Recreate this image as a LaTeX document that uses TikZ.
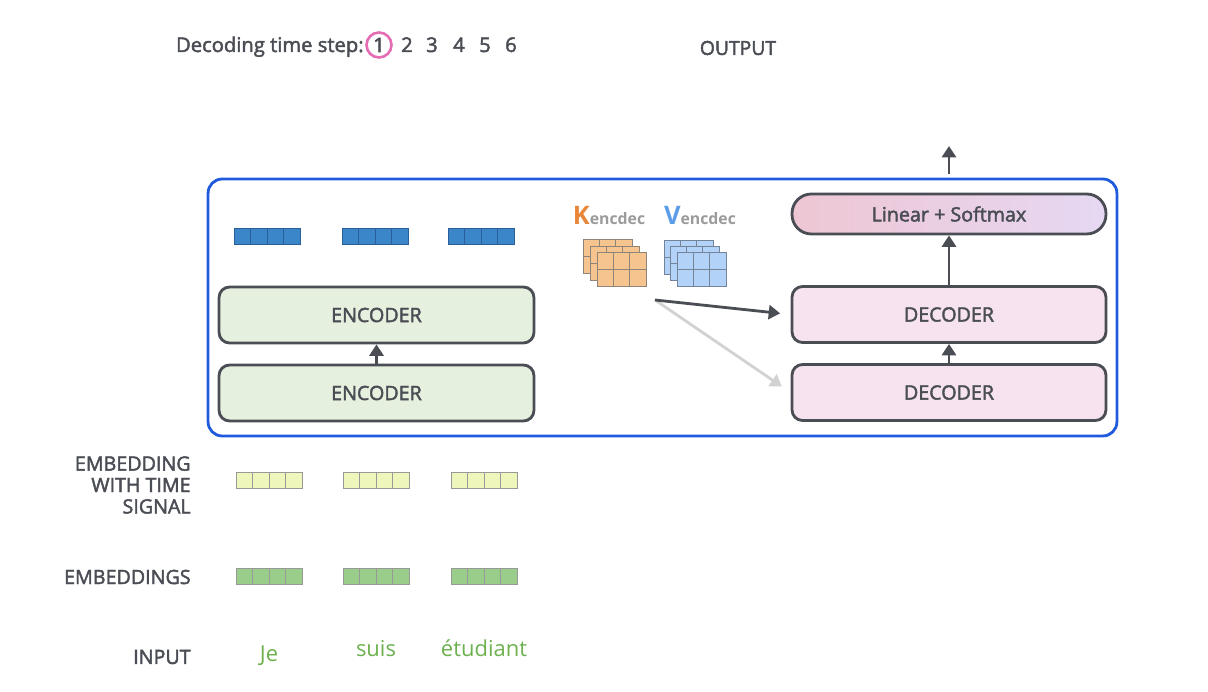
\documentclass[tikz,border=0pt]{standalone}
\usepackage{fontspec}
\setmainfont{Open Sans}
\newfontfamily\semifont{Open Sans}[FakeBold=2.2]
\usetikzlibrary{arrows.meta,positioning,calc}
\definecolor{tfgrey}{HTML}{4A4D54}
\definecolor{tfblue}{HTML}{1F5BDC}
\definecolor{tfpink}{HTML}{E46DB4}
\definecolor{encfill}{HTML}{E6F0DF}
\definecolor{decfill}{HTML}{F7E3EF}
\definecolor{lsleft}{HTML}{EEC6D3}
\definecolor{lsright}{HTML}{E6D8F3}
\definecolor{encout}{HTML}{3A86C8}
\definecolor{encoutline}{HTML}{2A609A}
\definecolor{timefill}{HTML}{EEF6BC}
\definecolor{embfill}{HTML}{9ACD8A}
\definecolor{wordgreen}{HTML}{6DB14F}
\definecolor{kcol}{HTML}{E8873A}
\definecolor{vcol}{HTML}{5B9DE8}
\definecolor{kfill}{HTML}{F6C58F}
\definecolor{kline}{HTML}{8E8478}
\definecolor{vfill}{HTML}{B3D2F8}
\definecolor{vline}{HTML}{73849A}
\definecolor{subgrey}{HTML}{9B9B9B}
\definecolor{faint}{HTML}{D2D2D2}

\begin{document}
\begin{tikzpicture}[
  x=0.02cm, y=-0.02cm,
  block/.style={draw=tfgrey, line width=1.6pt, rounded corners=6pt,
                minimum width=6.3cm, minimum height=1.12cm, text=tfgrey,
                font=\semifont\fontsize{11.2}{13}\selectfont},
  arr/.style={-{Triangle[length=6.5pt, width=8pt]}, tfgrey, line width=1.6pt},
  lbl/.style={text=tfgrey, font=\semifont\fontsize{11.2}{12.2}\selectfont, align=right,
              anchor=east, inner sep=0pt},
  word/.style={text=wordgreen, font=\fontsize{12.5}{14}\selectfont, anchor=base},
  stepnum/.style={text=tfgrey, font=\semifont\fontsize{11.5}{13}\selectfont},
  encbox/.style={fill=encout, draw=encoutline, line width=0.5pt},
  timebox/.style={fill=timefill, draw=gray!80, line width=0.5pt},
  embbox/.style={fill=embfill, draw=gray!80, line width=0.5pt},
  kcell/.style={fill=kfill, draw=kline, line width=0.5pt},
  vcell/.style={fill=vfill, draw=vline, line width=0.5pt},
]
\useasboundingbox (0,0) rectangle (1208,692);

% ---------------- header -------------------------------------------
\node[stepnum, anchor=base east, inner sep=0pt] (steplbl) at (364,52) {Decoding time step:};
\node[stepnum, draw=tfpink, circle, line width=1.5pt, minimum size=0.5cm, inner sep=0pt] (s1) at (379,45) {1};
\foreach \n/\sx in {2/407,3/432,4/459,5/485,6/511}
  \node[stepnum, anchor=base] (s\n) at (\sx,52) {\n};
\node[stepnum, font=\semifont\fontsize{11}{13}\selectfont] (outlbl) at (738,48) {OUTPUT};

% ---------------- frame and blocks ---------------------------------
\node[draw=tfblue, line width=1.6pt, rounded corners=8pt,
      minimum width=18.18cm, minimum height=5.14cm] (frame) at (662.5,307.5) {};

\node[block, fill=encfill] (enc1) at (376.5,393) {ENCODER};
\node[block, fill=encfill] (enc2) at (376.5,315) {ENCODER};
\node[block, fill=decfill, minimum width=6.28cm] (dec1) at (949,392.5) {DECODER};
\node[block, fill=decfill, minimum width=6.28cm] (dec2) at (949,314.5) {DECODER};
\node[block, left color=lsleft, right color=lsright, minimum width=6.28cm,
      minimum height=0.8cm, rounded corners=11pt] (ls) at (949,214) {Linear + Softmax};

\draw[arr] (enc1.north) -- (enc2.south);
\draw[arr] (dec1.north) -- (dec2.south);
\draw[arr] (dec2.north) -- (ls.south);
\coordinate (out) at (949,146);
\draw[arr] ([yshift=2pt]frame.north -| ls.north) -- (out);

% ---------------- encoder outputs ----------------------------------
\foreach \vx in {234,342,448}
  \foreach \i in {0,...,3}
    \draw[encbox] (\vx+\i*16.5,228) rectangle ++(16.5,16);

% ---------------- K / V --------------------------------------------
\node[anchor=base, font=\bfseries\fontsize{9}{10}\selectfont, inner sep=0pt] (klbl) at (609,225)
  {\textcolor{kcol}{\fontsize{14.5}{14}\selectfont K}\textcolor{subgrey}{encdec}};
\node[anchor=base, font=\bfseries\fontsize{9}{10}\selectfont, inner sep=0pt] (vlbl) at (700,225)
  {\textcolor{vcol}{\fontsize{14.5}{14}\selectfont V}\textcolor{subgrey}{encdec}};
\foreach \mx/\my in {583/239,590/246,597/252}
  \foreach \c in {0,1,2}
    \foreach \r in {0,1}
      \filldraw[kcell] (\mx+\c*16.33,\my+\r*17) rectangle ++(16.33,17);
\foreach \mx/\my in {664/240,670/246,677/252}
  \foreach \c in {0,1,2}
    \foreach \r in {0,1}
      \filldraw[vcell] (\mx+\c*16.33,\my+\r*17) rectangle ++(16.33,17);

\coordinate (kv) at (655,300);
\draw[arr, faint, shorten >=6pt] (kv) -- (dec1.west);
\draw[arr, shorten >=6pt] (kv) -- (dec2.west);

% ---------------- embeddings ---------------------------------------
\foreach \vx in {236,343,451}
  \foreach \i in {0,...,3} {
    \draw[timebox] (\vx+\i*16.5,472) rectangle ++(16.5,16);
    \draw[embbox] (\vx+\i*16.5,568) rectangle ++(16.5,16);
  }

\node[lbl] (timelbl) at (191,485) {EMBEDDING\\WITH TIME\\SIGNAL};
\node[lbl] (emblbl) at (191,577) {EMBEDDINGS};
\node[lbl] (inlbl) at (191,657) {INPUT};

\node[word] (w1) at (269,662) {Je};
\node[word] (w2) at (376,657) {suis};
\node[word] (w3) at (484,657) {étudiant};

\end{tikzpicture}
\end{document}
